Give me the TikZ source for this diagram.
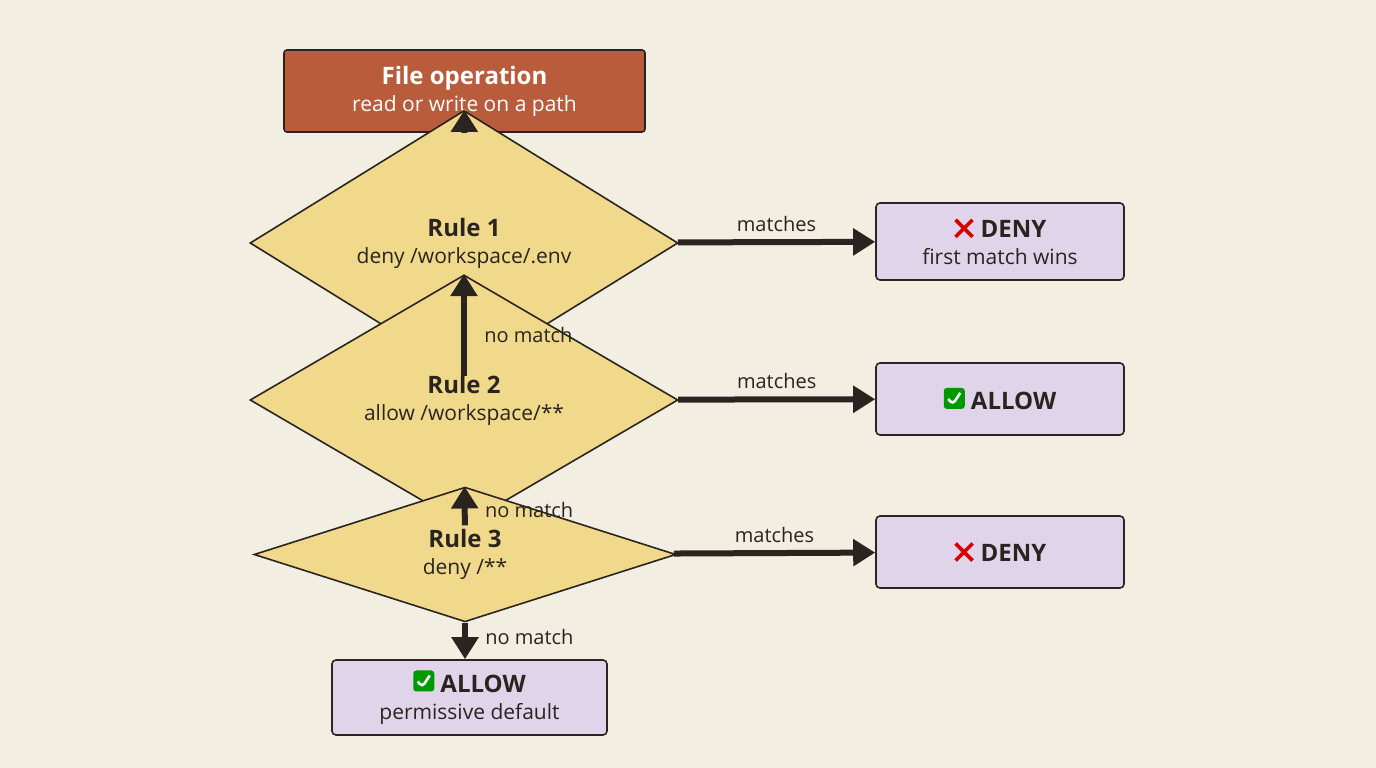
\documentclass[tikz,border=0pt]{standalone}
\usepackage{fontspec}
\setmainfont{Open Sans}
\usetikzlibrary{shapes.geometric,arrows.meta}
\definecolor{bg}{HTML}{F3EEE2}
\definecolor{startc}{HTML}{B95C3B}
\definecolor{dia}{HTML}{F1D98C}
\definecolor{res}{HTML}{E0D4EA}
\definecolor{ink}{HTML}{2A2420}
\newcommand\xmark{\tikz[baseline=-1pt]{\draw[line width=3.6pt,color=red!85!black] (0,0)--(17pt,17pt) (0,17pt)--(17pt,0);}}
\newcommand\vmark{\tikz[baseline=-1pt]{\fill[rounded corners=3pt,green!60!black] (0,0) rectangle (21pt,21pt);\draw[white,line width=2.6pt] (4.5pt,10pt)--(9pt,4.5pt)--(16.5pt,16pt);}}
\tikzset{
  base/.style={draw=ink,line width=1.6pt,align=center,inner sep=0pt,font=\fontsize{21}{27}\selectfont,text=ink},
  startbox/.style={base,fill=startc,rounded corners=3pt,minimum width=361pt,minimum height=82pt,text=white},
  decision/.style={base,diamond,fill=dia,minimum width=428pt,minimum height=103pt},
  result/.style={base,fill=res,rounded corners=4pt,minimum width=248pt,minimum height=74pt},
  flow/.style={ink,line width=6pt,-{Triangle[length=22pt,width=26pt]}},
  lbl/.style={font=\fontsize{20}{24}\selectfont,text=ink},
  ttl/.style={}
}
\newcommand\tl[1]{{\fontsize{24}{30}\selectfont\bfseries #1}}
\begin{document}
\begin{tikzpicture}[x=1pt,y=-1pt]
\fill[bg] (0,0) rectangle (1376,768);
\useasboundingbox (0,0) rectangle (1376,768);
\node[startbox] (s) at (464.5,91) {\tl{File operation}\\read or write on a path};
\node[decision] (r1) at (464,243) {\tl{Rule 1}\\deny /workspace/.env};
\node[decision] (r2) at (464,400) {\tl{Rule 2}\\allow /workspace/**};
\node[decision,minimum width=422pt,minimum height=97pt] (r3) at (465,554.5) {\tl{Rule 3}\\deny /**};
\node[result,minimum height=77pt] (d1) at (1000,241.5) {\tl{\xmark\ DENY}\\first match wins};
\node[result,minimum height=72pt] (a1) at (1000,399) {\tl{\vmark\ ALLOW}};
\node[result,minimum height=72pt] (d2) at (1000,552) {\tl{\xmark\ DENY}};
\node[result,minimum width=275pt,minimum height=75pt] (a2) at (469.5,697.5) {\tl{\vmark\ ALLOW}\\permissive default};
\draw[flow] (s) -- (r1);
\draw[flow] (r1) -- node[lbl,right=14pt,pos=0.4]{no match} (r2);
\draw[flow] (r2) -- node[lbl,right=14pt,pos=0.4]{no match} (r3);
\draw[flow] (r3.south) -- node[lbl,right=14pt,pos=0.4]{no match} (r3.south |- a2.north);
\draw[flow] (r1) -- node[lbl,above=4pt]{matches} (d1);
\draw[flow] (r2) -- node[lbl,above=4pt]{matches} (a1);
\draw[flow] (r3) -- node[lbl,above=4pt]{matches} (d2);
\end{tikzpicture}
\end{document}
